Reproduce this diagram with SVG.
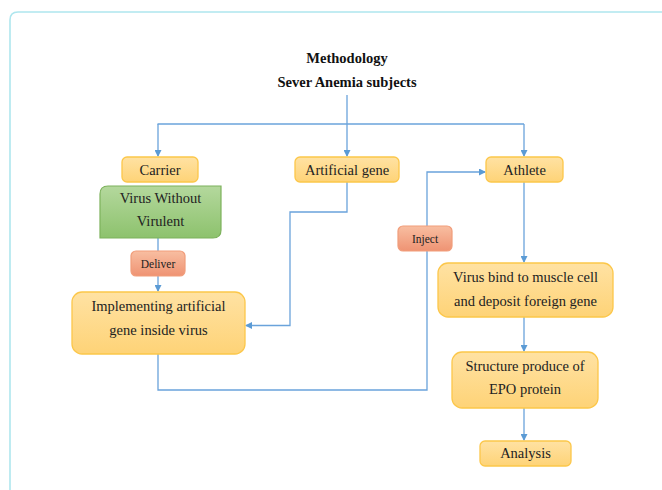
<svg xmlns="http://www.w3.org/2000/svg" width="662" height="490" viewBox="0 0 662 490" font-family="'Liberation Serif', 'Times New Roman', 'DejaVu Serif', serif">
  <style>
    text { font-family: "Liberation Serif", "Times New Roman", "DejaVu Serif", serif; }
    .t { fill: #222; text-anchor: middle; dominant-baseline: central; }
    .title { font-size: 14.5px; font-weight: bold; fill: #111; }
    .box { font-size: 14.5px; }
    .lbl { font-size: 11.5px; }
    .orange { fill: url(#gOrange); stroke: #fcc74a; stroke-width: 1.3; }
    .green { fill: url(#gGreen); stroke: #7db25c; stroke-width: 1.2; }
    .salmon { fill: url(#gSalmon); stroke: #f19d7b; stroke-width: 1.2; }
    .conn { fill: none; stroke: #6aa3db; stroke-width: 1.3; }
  </style>
  <defs>
    <linearGradient id="gOrange" x1="0" y1="0" x2="0" y2="1">
      <stop offset="0" stop-color="#ffe2a3"/>
      <stop offset="1" stop-color="#fed377"/>
    </linearGradient>
    <linearGradient id="gGreen" x1="0" y1="0" x2="0" y2="1">
      <stop offset="0" stop-color="#b4d89d"/>
      <stop offset="1" stop-color="#8dc26d"/>
    </linearGradient>
    <linearGradient id="gSalmon" x1="0" y1="0" x2="0" y2="1">
      <stop offset="0" stop-color="#f8bea1"/>
      <stop offset="1" stop-color="#ef9373"/>
    </linearGradient>
    <marker id="arr" markerUnits="userSpaceOnUse" markerWidth="7" markerHeight="7" refX="6" refY="3.5" orient="auto">
      <path d="M0,0 L7,3.5 L0,7 z" fill="#5b9bd5"/>
    </marker>
  </defs>

  <path d="M10,490 V20 Q10,12 18,12 H662" fill="none" stroke="#aee6ee" stroke-width="1.6"/>

  <g id="header">
    <text class="t title" x="347" y="58">Methodology</text>
    <text class="t title" x="347" y="82">Sever Anemia subjects</text>
  </g>

  <g id="connectors">
    <path class="conn" d="M347,95 V124"/>
    <path class="conn" d="M157.5,124 H524"/>
    <path class="conn" d="M158,124 V156" marker-end="url(#arr)"/>
    <path class="conn" d="M347,124 V156" marker-end="url(#arr)"/>
    <path class="conn" d="M524,124 V156" marker-end="url(#arr)"/>
    <path class="conn" d="M158,238 V251"/>
    <path class="conn" d="M158,276 V291" marker-end="url(#arr)"/>
    <path class="conn" d="M347,182 V212 H290 V325.5 H246" marker-end="url(#arr)"/>
    <path class="conn" d="M158,354 V390 H427 V172 H485" marker-end="url(#arr)"/>
    <path class="conn" d="M524,182 V262" marker-end="url(#arr)"/>
    <path class="conn" d="M524,317 V351" marker-end="url(#arr)"/>
    <path class="conn" d="M524,408 V440" marker-end="url(#arr)"/>
  </g>

  <g id="carrier">
    <rect class="orange" x="122" y="157" width="76" height="25" rx="5"/>
    <text class="t box" x="160" y="169.5">Carrier</text>
  </g>
  <g id="artificial-gene">
    <rect class="orange" x="295" y="157" width="104" height="25" rx="5"/>
    <text class="t box" x="347" y="169.5">Artificial gene</text>
  </g>
  <g id="athlete">
    <rect class="orange" x="486" y="157" width="77" height="25" rx="5"/>
    <text class="t box" x="524.5" y="169.5">Athlete</text>
  </g>
  <g id="virus-without-virulent">
    <path class="green" d="M100,238 V194 Q100,186 108,186 H221 V230 Q221,238 213,238 Z"/>
    <text class="t box" x="160.5" y="198">Virus Without</text>
    <text class="t box" x="160.5" y="221">Virulent</text>
  </g>
  <g id="deliver">
    <rect class="salmon" x="131" y="251" width="54" height="25" rx="5"/>
    <text class="t lbl" x="158" y="263.5">Deliver</text>
  </g>
  <g id="implementing">
    <rect class="orange" x="72" y="292" width="173" height="62" rx="10"/>
    <text class="t box" x="158.5" y="306">Implementing artificial</text>
    <text class="t box" x="158.5" y="330">gene inside virus</text>
  </g>
  <g id="inject">
    <rect class="salmon" x="398" y="226" width="54" height="25" rx="5"/>
    <text class="t lbl" x="425" y="238.5">Inject</text>
  </g>
  <g id="virus-bind">
    <rect class="orange" x="438" y="263" width="175" height="54" rx="10"/>
    <text class="t box" x="525.5" y="277">Virus bind to muscle cell</text>
    <text class="t box" x="525.5" y="301">and deposit foreign gene</text>
  </g>
  <g id="structure">
    <rect class="orange" x="452" y="352" width="146" height="56" rx="10"/>
    <text class="t box" x="525" y="366">Structure produce of</text>
    <text class="t box" x="525" y="389">EPO protein</text>
  </g>
  <g id="analysis">
    <rect class="orange" x="480" y="441" width="91" height="25" rx="5"/>
    <text class="t box" x="525.5" y="453">Analysis</text>
  </g>
</svg>
